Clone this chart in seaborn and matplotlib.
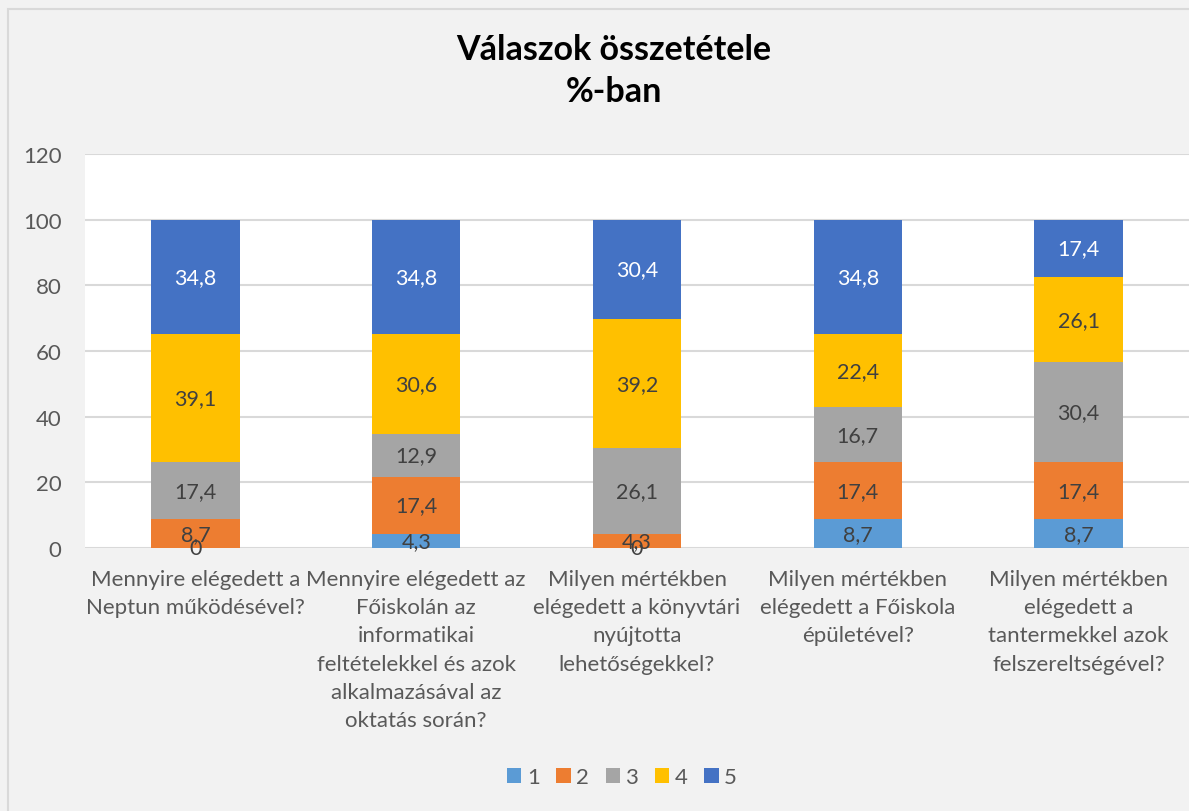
import matplotlib
matplotlib.use("Agg")
import matplotlib.pyplot as plt
from matplotlib.patches import Patch, Rectangle
import numpy as np
import pandas as pd
import seaborn as sns

# ── Data ──────────────────────────────────────────────────────────────────────
kerdesek = [
    "Mennyire elégedett a\nNeptun működésével?",
    "Mennyire elégedett az\nFőiskolán az\ninformatikai\nfeltételekkel és azok\nalkalmazásával az\noktatás során?",
    "Milyen mértékben\nelégedett a könyvtári\nnyújtotta\nlehetőségekkel?",
    "Milyen mértékben\nelégedett a Főiskola\népületével?",
    "Milyen mértékben\nelégedett a\ntantermekkel azok\nfelszereltségével?",
]
sorozatok = ["1", "2", "3", "4", "5"]
ertek_1 = [0, 4.3, 0, 8.7, 8.7]
ertek_2 = [8.7, 17.4, 4.3, 17.4, 17.4]
ertek_3 = [17.4, 12.9, 26.1, 16.7, 30.4]
ertek_4 = [39.1, 30.6, 39.2, 22.4, 26.1]
ertek_5 = [34.8, 34.8, 30.4, 34.8, 17.4]
yticks = [0, 20, 40, 60, 80, 100, 120]

SZINEK = ["#5B9BD5", "#ED7D31", "#A5A5A5", "#FFC000", "#4472C4"]
CIMKE_SZIN = ["#404040", "#404040", "#404040", "#404040", "#FFFFFF"]
SZOVEG = "#595959"
HATTER = "#F2F2F2"

sns.set_theme(style="white")
plt.rcParams["font.family"] = ["Lato", "DejaVu Sans"]

df = pd.DataFrame({
    "kerdes": np.repeat(kerdesek, len(sorozatok)),
    "sorozat": sorozatok * len(kerdesek),
    "ertek": np.column_stack([ertek_1, ertek_2, ertek_3, ertek_4, ertek_5]).ravel(),
})

fig = plt.figure(figsize=(11.89, 8.12), dpi=100, facecolor=HATTER)
ax = fig.add_axes([85 / 1189, 1 - 549 / 812, 1 - 85 / 1189, (549 - 155) / 812])
ax.set_facecolor("white")

# figure frame
fig.patches.append(Rectangle((8 / 1189, -0.01), 1.0, 1 - 10 / 812 + 0.01,
                             transform=fig.transFigure, fill=False,
                             edgecolor="#D9D9D9", linewidth=1.5, zorder=0))

# ── Stacked bars ──────────────────────────────────────────────────────────────
alja = np.zeros(len(kerdesek))
for i, s in enumerate(sorozatok):
    sub = df[df["sorozat"] == s]
    vals = sub["ertek"].to_numpy()
    sns.barplot(data=sub, x="kerdes", y="ertek", order=kerdesek, bottom=alja,
                color=SZINEK[i], width=0.4, errorbar=None, saturation=1,
                edgecolor="none", ax=ax, zorder=3)
    for j, v in enumerate(vals):
        ax.text(j, alja[j] + v / 2, f"{v:g}".replace(".", ","),
                ha="center", va="center", fontsize=15.5,
                color=CIMKE_SZIN[i], zorder=5)
    alja = alja + vals

# ── Axes styling ──────────────────────────────────────────────────────────────
ax.set_xlim(-0.5, 4.5)
ax.set_ylim(0, 120)
ax.set_yticks(yticks)
ax.yaxis.grid(True, color="#D9D9D9", linewidth=1.5, zorder=0)
ax.set_axisbelow(True)
for sp in ax.spines.values():
    sp.set_visible(False)
ax.set_xlabel("")
ax.set_ylabel("")
ax.tick_params(axis="y", length=0, labelsize=16, labelcolor=SZOVEG, pad=17)
ax.tick_params(axis="x", length=0, labelsize=16, labelcolor=SZOVEG, pad=15)
for lbl in ax.get_xticklabels():
    lbl.set_linespacing(1.52)

fig.text(614 / 1189, 1 - 71 / 812, "Válaszok összetétele\n%-ban", ha="center",
         va="center", fontsize=24.5, fontweight="bold", color="black",
         linespacing=1.4)

handles = [Patch(facecolor=c, edgecolor="none") for c in SZINEK]
fig.legend(handles, sorozatok, loc="center", bbox_to_anchor=(622 / 1189, 1 - 778 / 812),
           ncol=5, frameon=False, fontsize=16, labelcolor=SZOVEG,
           handlelength=0.64, handleheight=0.64, handletextpad=0.25,
           columnspacing=0.75)

fig.savefig("out.png", dpi=100, facecolor=HATTER)
